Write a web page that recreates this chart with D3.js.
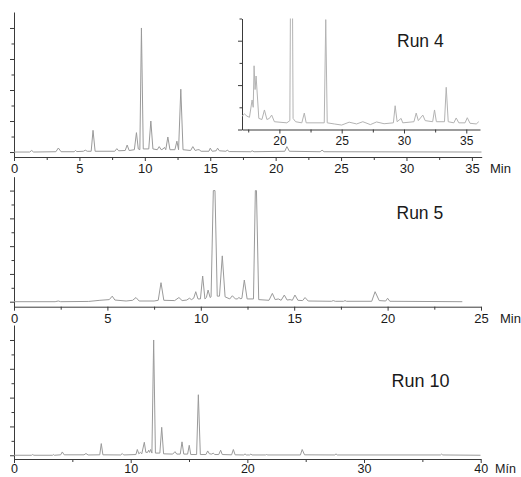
<!DOCTYPE html>
<html>
<head>
<meta charset="utf-8">
<script src="https://cdn.jsdelivr.net/npm/d3@7"></script>
<style>
  body { margin: 0; background: #fff; }
  svg { display: block; font-family: "Liberation Sans", Arial, Helvetica, sans-serif; }
</style>
</head>
<body>
<svg id="chart" width="521" height="477"></svg>
<script>
// chromatogram traces: [minutes, intensity]
const run4 = [[0,0],[1.2,0],[1.35,0.1],[1.5,0],[3.2,0.02],[3.39,0.26],[3.6,0.02],[4.6,0.02],[4.7,0.1],[4.8,0.03],
  [5.3,0.05],[5.45,0.12],[5.6,0.05],[5.9,0.05],[6.04,1.4],[6.2,0.05],[7.7,0.05],[7.86,0.22],[8.0,0.08],[8.5,0.1],
  [8.65,0.45],[8.8,0.1],[9.2,0.15],[9.36,1.25],[9.5,0.2],[9.62,0.15],[9.74,8.0],[9.88,0.2],[10.3,0.2],[10.46,2.0],
  [10.62,0.2],[10.95,0.15],[11.1,0.35],[11.25,0.15],[11.4,0.2],[11.5,0.3],[11.6,0.15],[11.76,0.97],[11.92,0.15],
  [12.3,0.15],[12.45,0.7],[12.58,0.15],[12.75,4.05],[12.92,0.15],[13.5,0.1],[13.67,0.35],[13.85,0.1],[14.05,0.15],
  [14.15,0.15],[14.3,0.05],[14.9,0.05],[15.0,0.25],[15.15,0.05],[15.45,0.08],[15.56,0.25],[15.7,0.08],[16.2,0.05],
  [16.3,0.12],[16.45,0.03],[18.1,0.02],[18.2,0.08],[18.35,0.02],[20.7,0.05],[20.86,0.35],[21.05,0.05],[23.4,0.02],
  [23.55,0.12],[23.7,0.02],[35.75,0]];

// enlarged part of run 4 (inset)
const run4Zoom = [[17.0,0.6],[17.2,0.7],[17.4,0.6],[17.6,0.55],[17.81,1.33],[17.9,1.0],[17.97,2.87],[18.05,1.8],
  [18.13,2.41],[18.35,0.5],[18.6,0.45],[18.8,0.88],[19.0,0.45],[19.2,0.5],[19.38,0.65],[19.6,0.35],[20.6,0.3],
  [20.84,0.4],[20.9,7],[21.04,7],[21.1,0.5],[21.3,0.35],[21.8,0.3],[22.0,0.74],[22.15,0.3],[23.6,0.3],[23.72,4.95],
  [23.84,0.3],[24.4,0.25],[25.0,0.2],[25.6,0.33],[26.2,0.25],[26.7,0.35],[27.3,0.22],[27.8,0.34],[28.4,0.26],
  [29.15,0.3],[29.29,1.07],[29.45,0.35],[29.77,0.5],[29.9,0.3],[30.8,0.35],[30.98,0.74],[31.15,0.4],[31.51,0.65],
  [31.7,0.4],[32.3,0.35],[32.45,0.88],[32.6,0.35],[33.25,0.35],[33.39,1.9],[33.55,0.35],[34.0,0.3],[34.19,0.52],
  [34.4,0.3],[34.9,0.3],[35.08,0.53],[35.3,0.28],[35.8,0.25],[36.0,0.35]];

const run5 = [[0,0],[2.2,0],[2.37,0.05],[2.5,0],[4.0,0.02],[4.6,0.1],[5.1,0.15],[5.26,0.4],[5.4,0.12],[6.0,0.05],
  [6.35,0.1],[6.53,0.3],[6.7,0.05],[7.5,0.05],[7.72,0.1],[7.87,1.37],[8.02,0.1],[8.6,0.08],[8.83,0.3],[9.0,0.08],
  [9.25,0.12],[9.39,0.25],[9.5,0.15],[9.62,0.25],[9.73,0.72],[9.85,0.2],[9.98,0.2],[10.1,1.85],[10.22,0.2],[10.3,0.3],
  [10.39,0.84],[10.5,0.3],[10.55,0.35],[10.67,8],[10.76,8],[10.88,0.4],[11.0,0.4],[11.15,3.3],[11.3,0.35],[11.55,0.2],
  [11.69,0.43],[11.85,0.2],[11.95,0.2],[12.04,0.3],[12.15,0.2],[12.2,0.25],[12.33,1.56],[12.48,0.2],[12.82,0.2],
  [12.92,8],[12.98,8],[13.1,0.15],[13.65,0.1],[13.83,0.6],[13.98,0.15],[14.15,0.2],[14.3,0.1],[14.47,0.48],
  [14.62,0.12],[14.78,0.15],[14.9,0.1],[15.04,0.48],[15.2,0.1],[15.45,0.08],[15.58,0.3],[15.75,0.05],[17.0,0.03],
  [17.09,0.08],[17.2,0.03],[17.65,0.03],[17.72,0.08],[17.8,0.03],[19.15,0.03],[19.33,0.72],[19.55,0.08],[19.9,0.05],
  [20.0,0.25],[20.12,0.03],[24.0,0]];

const run10 = [[0,0],[1.5,0],[1.6,0.05],[1.7,0],[3.3,0],[3.37,0.05],[3.45,0],[4.0,0.03],[4.14,0.23],[4.3,0.03],
  [6.0,0.03],[6.17,0.12],[6.35,0.02],[7.35,0.03],[7.48,0.81],[7.62,0.03],[9.15,0.02],[9.28,0.12],[9.4,0.02],
  [10.45,0.05],[10.57,0.4],[10.7,0.1],[10.83,0.2],[10.95,0.1],[11.17,0.9],[11.3,0.2],[11.45,0.2],[11.54,0.35],
  [11.62,0.2],[11.71,0.4],[11.82,0.15],[11.97,8],[12.12,0.15],[12.5,0.15],[12.66,1.94],[12.82,0.1],[13.6,0.08],
  [13.8,0.25],[13.95,0.08],[14.25,0.08],[14.4,0.93],[14.55,0.08],[14.88,0.08],[15.02,0.69],[15.15,0.05],[15.65,0.05],
  [15.8,4.2],[15.97,0.05],[16.45,0.05],[16.6,0.3],[16.75,0.1],[16.95,0.08],[17.08,0.15],[17.2,0.05],[17.55,0.05],
  [17.71,0.35],[17.85,0.05],[18.65,0.03],[18.8,0.4],[18.95,0.03],[19.7,0.02],[19.8,0.1],[19.9,0.02],[20.2,0.02],
  [20.3,0.08],[20.4,0.02],[21.55,0.02],[21.65,0.05],[21.75,0.02],[24.55,0.02],[24.7,0.4],[24.9,0.03],[27.5,0.02],
  [27.6,0.1],[27.7,0.02],[36.55,0.02],[36.65,0.08],[36.75,0.02],[40,0]];

// tick values
const yTicks = [0,1,2,3,4,5,6,7,8];
const run4XTicks = [0,5,10,15,20,25,30,35];
const run5XTicks = [0,5,10,15,20,25];
const run10XTicks = [0,10,20,30,40];
const zoomXTicks = [20,25,30,35];
const zoomYTicks = [0,1,2,3,4,5];

const svg = d3.select("#chart");
const axisColor = "#3a3a3a";
const traceColor = "#9a9a9a";

function drawPanel(opt) {
    const g = svg.append("g");
    const x = d3.scaleLinear().domain(opt.xDomain).range(opt.xRange);
    const y = d3.scaleLinear().domain(opt.yDomain).range(opt.yRange);

    // minor ticks between the labelled ones
    const step = opt.xTicks[1] - opt.xTicks[0];
    const minor = [];
    for (let i = 0; i < opt.xTicks.length; i++) {
        const m = opt.xTicks[i] + step / 2;
        if (m < opt.xDomain[1]) minor.push(m);
    }
    if (opt.xTicks[0] - step / 2 > opt.xDomain[0]) minor.push(opt.xTicks[0] - step / 2);

    g.append("g")
        .attr("transform", `translate(0,${opt.yRange[0]})`)
        .call(d3.axisBottom(x).tickValues(minor).tickSize(3).tickFormat(""))
        .call(a => a.select(".domain").remove());

    const xa = g.append("g")
        .attr("transform", `translate(0,${opt.yRange[0]})`)
        .call(d3.axisBottom(x).tickValues(opt.xTicks).tickSize(4).tickSizeOuter(0).tickPadding(opt.pad));
    xa.selectAll("text").style("font-size", opt.fs + "px").attr("fill", "#1a1a1a");

    const ya = g.append("g")
        .attr("transform", `translate(${opt.xRange[0]},0)`)
        .call(d3.axisLeft(y).tickValues(opt.yTicks).tickSizeOuter(0).tickFormat(""));
    ya.selectAll(".tick line").attr("x2", (d, i) => i % 2 === 0 ? -4 : -2.5);

    g.selectAll(".domain, .tick line").attr("stroke", axisColor);

    const clipId = "clip" + Math.round(opt.yRange[1]);
    g.append("clipPath").attr("id", clipId)
        .append("rect")
        .attr("x", opt.xRange[0]).attr("y", opt.yRange[1])
        .attr("width", opt.xRange[1] - opt.xRange[0])
        .attr("height", opt.yRange[0] - opt.yRange[1]);

    const line = d3.line().x(d => x(d[0])).y(d => y(d[1]));
    g.append("path")
        .datum(opt.data)
        .attr("clip-path", `url(#${clipId})`)
        .attr("fill", "none")
        .attr("stroke", opt.color || traceColor)
        .attr("stroke-width", 1)
        .attr("stroke-linejoin", "round")
        .attr("d", line);

    if (opt.unit) {
        g.append("text")
            .attr("x", opt.unit[0])
            .attr("y", opt.unit[1])
            .style("font-size", opt.fs + "px")
            .attr("fill", "#1a1a1a")
            .text(opt.unit[2]);
    }
    if (opt.title) {
        g.append("text")
            .attr("x", opt.title[0])
            .attr("y", opt.title[1])
            .style("font-size", opt.title[3] + "px")
            .attr("fill", "#1a1a1a")
            .text(opt.title[2]);
    }
}

// Run 4
drawPanel({
    data: run4, xDomain: [0, 35.75], xRange: [14, 481.7],
    yDomain: [-0.32, 9.03], yRange: [157, 12], yTicks: yTicks,
    xTicks: run4XTicks, pad: 3, fs: 13,
    unit: [490, 173, "Min"], title: [397, 47, "Run 4", 17.5]
});

// inset of Run 4
drawPanel({
    data: run4Zoom, xDomain: [17, 36.1], xRange: [242, 480],
    yDomain: [0, 5], yRange: [129.5, 18.5], yTicks: zoomYTicks,
    xTicks: zoomXTicks, pad: 3, fs: 12, color: "#b3b3b3"
});

// Run 5
drawPanel({
    data: run5, xDomain: [0, 25], xRange: [14, 481],
    yDomain: [-0.36, 9], yRange: [306.7, 176.7], yTicks: yTicks,
    xTicks: run5XTicks, pad: 3, fs: 13,
    unit: [500, 322.5, "Min"], title: [396.5, 219, "Run 5", 17.5]
});

// Run 10 (labels kept tight to the bottom edge)
drawPanel({
    data: run10, xDomain: [0, 40], xRange: [14, 480.7],
    yDomain: [-0.26, 9.04], yRange: [459, 325], yTicks: yTicks,
    xTicks: run10XTicks, pad: 1, fs: 12.5,
    unit: [495, 473, "Mín"], title: [391.5, 387, "Run 10", 18]
});
</script>
</body>
</html>
